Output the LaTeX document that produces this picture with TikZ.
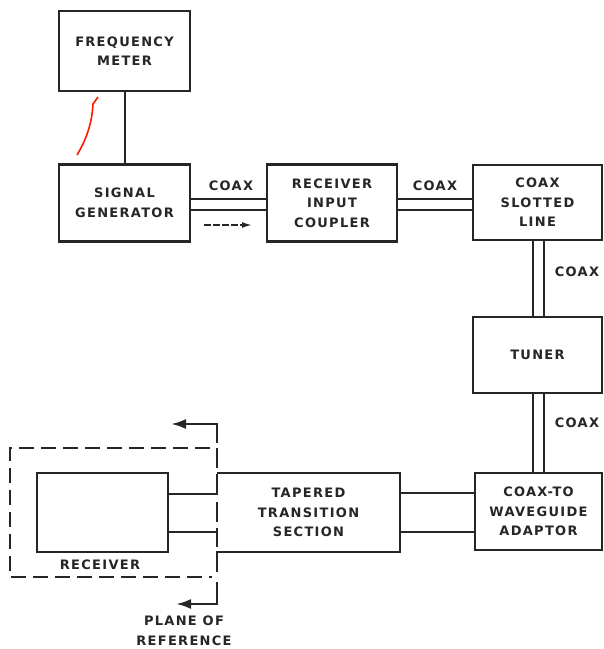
\documentclass[tikz,border=0pt]{standalone}
\usepackage{fontspec}
\newfontfamily\lblfont{DejaVu Sans}[LetterSpace=10]
\usetikzlibrary{arrows.meta}
\begin{document}
\begin{tikzpicture}[x=1pt,y=-1pt,
  txt/.style={font=\lblfont\bfseries\fontsize{13}{19.5}\selectfont,align=center,inner sep=0pt,text=black!85},
  blk/.style={txt,draw=black!85,line width=2.2pt,minimum width=131pt,minimum height=77pt},
  coax/.style={line width=1.8pt,draw=black!85},
  wire/.style={line width=2pt,draw=black!85},
  dsh/.style={line width=2.3pt,draw=black!85,dash pattern=on 15pt off 7pt},
  seg/.style={line width=2.6pt,draw=black!85},
  tip/.style={-{Latex[length=15pt,width=10pt]}}
]
\useasboundingbox[fill=white] (0,0) rectangle (604,649);
% blocks
\node[blk,minimum height=80pt] (freq) at (124.5,51) {FREQUENCY\\METER};
\node[blk] (sig) at (124.5,203) {SIGNAL\\GENERATOR};
\node[blk,minimum width=130pt] (ric) at (332,203) {RECEIVER\\INPUT\\COUPLER};
\node[blk,minimum width=129pt,minimum height=75pt] (slot) at (537.5,202.5) {COAX\\SLOTTED\\LINE};
\node[blk,minimum width=129pt,minimum height=76pt] (tuner) at (537.5,355) {TUNER};
\node[blk,minimum width=127pt] (adapt) at (538.5,511.5) {COAX-TO\\WAVEGUIDE\\ADAPTOR};
\node[txt,minimum width=183pt,minimum height=78pt] (tap) at (308.5,512.5) {TAPERED\\TRANSITION\\SECTION};
\node[draw=black!85,line width=2pt,minimum width=131pt,minimum height=79pt,inner sep=0pt] (rcv) at (102.5,512.5) {};
\node[txt] (rcvlbl) at (100,565) {RECEIVER};
\node[txt] (plane) at (184,631) {PLANE OF\\REFERENCE};
% coax labels
\node[txt] (c1) at (231,186) {COAX};
\node[txt] (c2) at (435,186) {COAX};
\node[txt] (c3) at (577,272) {COAX};
\node[txt] (c4) at (577,423) {COAX};
% helper coordinates
\coordinate (ya) at (0,199);
\coordinate (yb) at (0,210);
\coordinate (xa) at (533,0);
\coordinate (xb) at (544,0);
\coordinate (yc) at (0,493);
\coordinate (yd) at (0,532);
\coordinate (pa) at (217,494);
\coordinate (pb) at (217,532);
% tapered section outline (left side is the plane of reference)
\draw[line width=2.2pt,draw=black!85] (tap.north west) -- (tap.north east)
  -- (tap.south east) -- (tap.south west);
% connectors
\draw[wire] (freq.south) -- (sig.north);
\draw[coax,line width=1.4pt] (sig.east |- ya) -- (ric.west |- ya);
\draw[coax] (sig.east |- yb) -- (ric.west |- yb);
\draw[coax,line width=1.4pt] (ric.east |- ya) -- (slot.west |- ya);
\draw[coax] (ric.east |- yb) -- (slot.west |- yb);
\draw[coax,line width=1.4pt] (slot.south -| xa) -- (tuner.north -| xa);
\draw[coax] (slot.south -| xb) -- (tuner.north -| xb);
\draw[coax,line width=1.4pt] (tuner.south -| xa) -- (adapt.north -| xa);
\draw[coax] (tuner.south -| xb) -- (adapt.north -| xb);
\draw[coax] (tap.east |- yc) -- (adapt.west |- yc);
\draw[coax] (tap.east |- yd) -- (adapt.west |- yd);
\draw[coax] (rcv.east |- pa) -- (pa);
\draw[coax] (rcv.east |- pb) -- (pb);
% direction arrow
\coordinate (da) at (204,225);
\coordinate (db) at (252,225);
\draw[line width=1.6pt,draw=black!85,dash pattern=on 7pt off 2pt,-{Latex[length=10pt,width=6pt]}] (da) -- (db);
% receiver dashed enclosure
\coordinate (t1) at (210,448);
\coordinate (t2) at (10,448);
\coordinate (t3) at (10,577);
\coordinate (t4) at (212,577);
\draw[dsh] (t1) -- (t2) -- (t3) -- (t4);
% plane of reference: dashed vertical drawn as explicit segments
\foreach \ya/\yb in {448/468, 473.5/495, 502/522, 528/547, 551/572}
  \draw[seg] (217,\ya) -- (217,\yb);
\coordinate (p1) at (217,443);
\coordinate (p2) at (217,582);
\coordinate (ptop) at (217,424);
\coordinate (ptopend) at (171,424);
\coordinate (pbot) at (217,604);
\coordinate (pbotend) at (176,604);
\draw[seg,tip] (p1) -- (ptop) -- (ptopend);
\draw[seg,tip] (p2) -- (pbot) -- (pbotend);
% red pen mark
\draw[line width=1.6pt,draw=red!80!orange] (98,97) -- (93,104) .. controls (92,124) and (86,140) .. (77,155);
\end{tikzpicture}
\end{document}
